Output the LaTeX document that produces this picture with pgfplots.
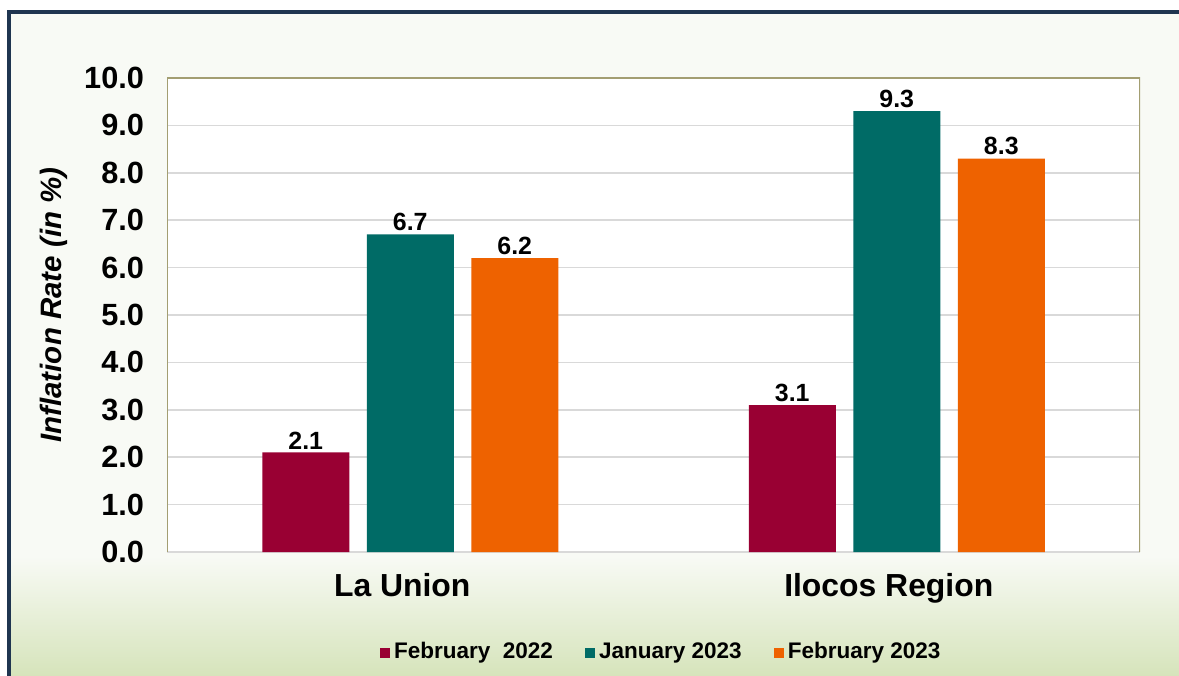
\documentclass[border=0pt]{standalone}
\usepackage{pgfplots}
\pgfplotsset{compat=1.18}
\usepackage{fontspec}
\setmainfont{Liberation Sans}
\definecolor{cMaroon}{HTML}{990033}
\definecolor{cTeal}{HTML}{006B66}
\definecolor{cOrange}{HTML}{EE6200}
\definecolor{bgTop}{HTML}{F8FAF5}
\definecolor{bgGreen}{HTML}{D6E4BB}
\definecolor{frameNavy}{HTML}{1F3550}
\definecolor{olive}{HTML}{A39E72}
\definecolor{gridGray}{HTML}{D9D9D9}
\begin{document}
\begin{tikzpicture}
\begin{scope}[x=0.5bp,y=-0.5bp]
\useasboundingbox (0,0) rectangle (1179,675);
\clip (0,0) rectangle (1179,675);
\fill[bgTop] (9,12) rectangle (1179,675);
\shade[top color=bgTop,bottom color=bgGreen] (9,556) rectangle (1179,676);
\draw[frameNavy,line width=1.6bp] (9,700) -- (9,12) -- (1200,12);
\coordinate (AO) at (167,552);
\end{scope}
\begin{axis}[
  at={(AO)}, anchor=south west,
  scale only axis, width=486.5bp, height=237bp,
  ybar, bar width=43.5bp,
  xmin=-0.5, xmax=1.5, ymin=0, ymax=10,
  xtick=data, xticklabels={La Union, Ilocos Region},
  ytick={0,1,...,10},
  major tick length=0pt,
  axis line style={draw=none},
  axis background/.style={fill=white},
  ymajorgrids, grid style={gridGray, line width=0.8bp},
  /pgf/number format/assume math mode=true,
  yticklabel style={font=\fontsize{15.4}{17}\selectfont\bfseries, xshift=-8bp,
    /pgf/number format/fixed, /pgf/number format/fixed zerofill, /pgf/number format/precision=1},
  xticklabel style={font=\fontsize{16}{19}\selectfont\bfseries, anchor=base, yshift=-22bp, xshift=-4bp},
  ylabel={Inflation Rate (in \%)},
  every axis y label/.style={at={(axis description cs:-0.116,0.521)}, rotate=90, anchor=center,
    font=\fontsize{14.8}{17}\selectfont\bfseries\itshape},
  nodes near coords,
  nodes near coords style={font=\fontsize{12.5}{14}\selectfont\bfseries,
    /pgf/number format/fixed, /pgf/number format/fixed zerofill, /pgf/number format/precision=1,
    inner sep=1.5bp, text=black},
  legend style={at={(axis description cs:0.509,-0.213)}, anchor=center, draw=none, fill=none, legend columns=3,
    font=\fontsize{11.3}{13}\selectfont\bfseries, /tikz/every even column/.append style={column sep=14bp},
    /tikz/every odd column/.append style={column sep=0bp}, nodes={inner xsep=2bp, text depth=0.2em, text height=0.75em}},
  legend image code/.code={\fill[#1] (0bp,-2.5bp) rectangle (5bp,2.5bp);},
]
\addplot[fill=cMaroon, draw=none, bar shift=-52.25bp] coordinates {(0,2.1) (1,3.1)};
\addplot[fill=cTeal, draw=none, bar shift=0bp] coordinates {(0,6.7) (1,9.3)};
\addplot[fill=cOrange, draw=none, bar shift=52.25bp] coordinates {(0,6.2) (1,8.3)};
\legend{February\ \ 2022, January 2023, February 2023}
\draw[olive, line width=1bp] (rel axis cs:0,0) -- (rel axis cs:0,1) -- (rel axis cs:1,1) -- (rel axis cs:1,0);
\end{axis}
\end{tikzpicture}
\end{document}
